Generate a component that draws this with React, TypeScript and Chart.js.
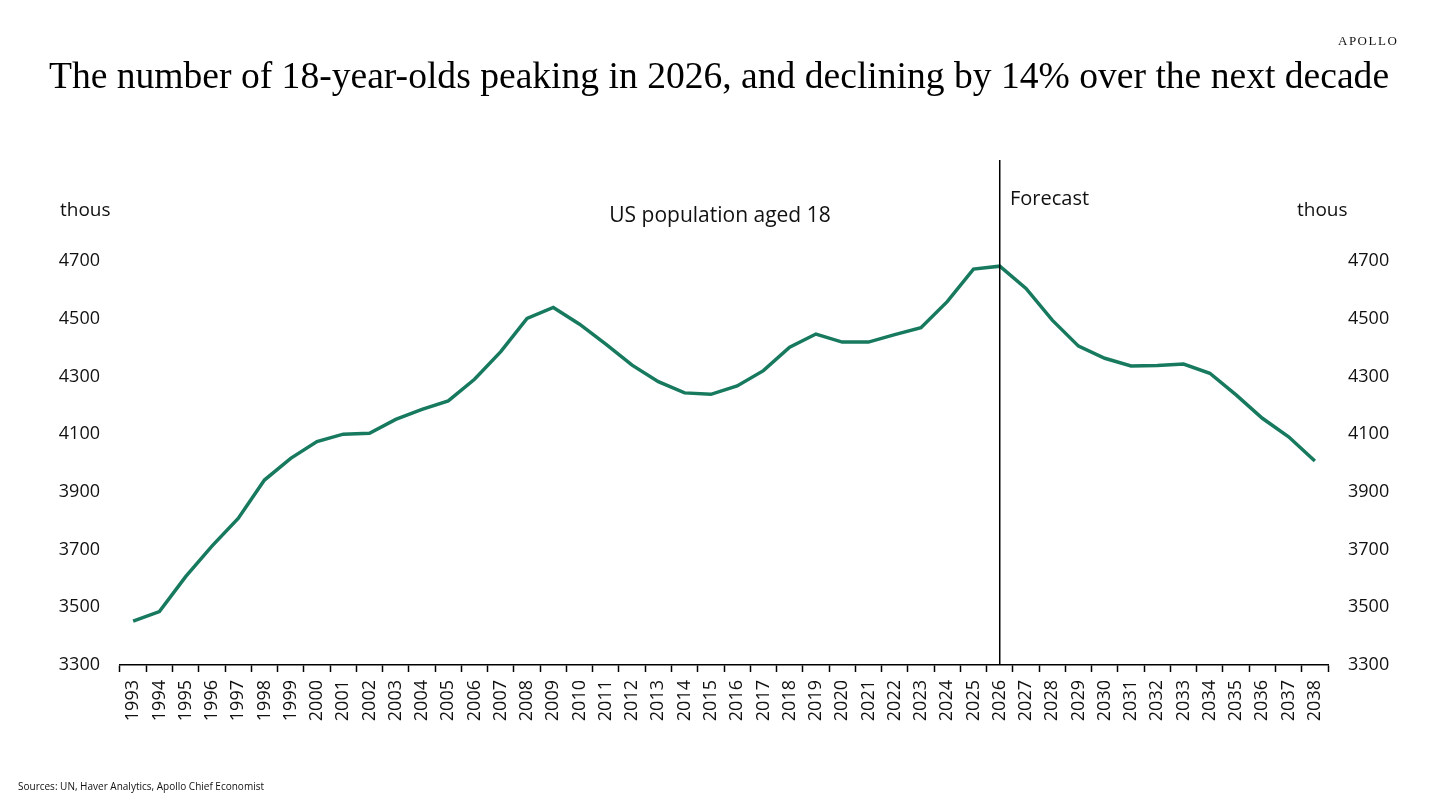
import { useEffect, useRef } from "react";
import { Chart, ChartItem, registerables } from "chart.js";

Chart.register(...registerables);

const years = [
  "1993", "1994", "1995", "1996", "1997", "1998", "1999", "2000", "2001", "2002",
  "2003", "2004", "2005", "2006", "2007", "2008", "2009", "2010", "2011", "2012",
  "2013", "2014", "2015", "2016", "2017", "2018", "2019", "2020", "2021", "2022",
  "2023", "2024", "2025", "2026", "2027", "2028", "2029", "2030", "2031", "2032",
  "2033", "2034", "2035", "2036", "2037", "2038",
];

// US population aged 18, thousands
const population = [
  3452, 3485, 3606, 3712, 3808, 3941, 4016, 4074, 4100, 4103,
  4151, 4186, 4215, 4290, 4386, 4501, 4539, 4481, 4412, 4339,
  4282, 4243, 4238, 4267, 4320, 4401, 4447, 4419, 4419, 4445,
  4469, 4559, 4672, 4682, 4605, 4495, 4405, 4363, 4336, 4338,
  4343, 4311, 4236, 4155, 4091, 4007,
];

const yTicks = [3300, 3500, 3700, 3900, 4100, 4300, 4500, 4700];
const forecastStart = "2026";

const FONT = "'Open Sans', 'Noto Sans', sans-serif";
const GREEN = "#177a5e";

const forecastLine = {
  id: "forecastLine",
  afterDatasetsDraw(chart: Chart) {
    const { ctx, chartArea, scales } = chart;
    const x = scales.x.getPixelForValue(years.indexOf(forecastStart));
    ctx.save();
    ctx.strokeStyle = "#000";
    ctx.lineWidth = 1.5;
    ctx.beginPath();
    ctx.moveTo(x, chartArea.top);
    ctx.lineTo(x, chartArea.bottom);
    ctx.stroke();
    ctx.restore();
  },
};

const PopulationChart = () => {
  const chartRef = useRef<HTMLCanvasElement>(null);

  useEffect(() => {
    if (!chartRef.current) return;
    const ctx = chartRef.current.getContext("2d");

    const yScale = (position: "left" | "right") => ({
      type: "linear" as const,
      position,
      min: 3300,
      max: 5050,
      afterBuildTicks: (scale: any) => {
        scale.ticks = yTicks.map((v) => ({ value: v }));
      },
      afterFit: (scale: any) => {
        scale.width = position === "left" ? 120 : 112;
      },
      grid: { display: false, drawTicks: false },
      border: { display: false },
      ticks: {
        color: "#111",
        padding: 20,
        font: { family: FONT, size: 18 },
        callback: (v: any) => String(v),
      },
    });

    const myChart = new Chart(ctx as ChartItem, {
      type: "line",
      data: {
        labels: years,
        datasets: [
          {
            label: "US population aged 18",
            data: population,
            borderColor: GREEN,
            borderWidth: 3.5,
            pointRadius: 0,
            tension: 0,
            yAxisID: "y",
          },
        ],
      },
      options: {
        responsive: false,
        animation: false,
        layout: { padding: { left: 0, right: 0, top: 160, bottom: 84 } },
        plugins: {
          legend: { display: false },
          tooltip: { enabled: false },
        },
        scales: {
          x: {
            type: "category",
            offset: true,
            afterFit: (scale: any) => {
              scale.height = 60;
            },
            grid: {
              display: true,
              offset: true,
              drawOnChartArea: false,
              drawTicks: true,
              tickLength: 7,
              tickWidth: 1.5,
              tickColor: "#000",
            },
            border: { display: true, color: "#000", width: 1.5 },
            ticks: {
              color: "#111",
              autoSkip: false,
              maxRotation: 90,
              minRotation: 90,
              padding: 8,
              font: { family: FONT, size: 18 },
            },
          },
          y: yScale("left"),
          y2: yScale("right"),
        },
      },
      plugins: [forecastLine],
    });

    return () => {
      myChart.destroy();
    };
  }, []);

  return <canvas ref={chartRef} width={1440} height={809} style={{ position: "absolute", left: 0, top: 0, width: 1440, height: 809 }} />;
};

const text = (extra: React.CSSProperties): React.CSSProperties => ({
  position: "absolute",
  whiteSpace: "nowrap",
  fontFamily: FONT,
  color: "#111",
  lineHeight: 1,
  ...extra,
});

export default function App() {
  return (
    <div style={{ position: "absolute", left: 0, top: 0, width: 1440, height: 809, background: "#fff", overflow: "hidden" }}>
      <PopulationChart />
      <div style={text({ left: 1338, top: 34, fontFamily: "'Liberation Serif', serif", fontSize: 13, letterSpacing: 1.5 })}>APOLLO</div>
      <div style={text({ left: 0, width: 1438, top: 57, textAlign: "center", fontFamily: "'Liberation Serif', 'DejaVu Serif', serif", fontSize: 37.6, color: "#000" })}>
        The number of 18-year-olds peaking in 2026, and declining by 14% over the next decade
      </div>
      <div style={text({ left: 60, top: 200, fontSize: 19 })}>thous</div>
      <div style={text({ left: 1297, top: 200, fontSize: 19 })}>thous</div>
      <div style={text({ left: 520, width: 400, top: 204, textAlign: "center", fontSize: 21 })}>US population aged 18</div>
      <div style={text({ left: 1010, top: 188, fontSize: 20 })}>Forecast</div>
      <div style={text({ left: 18, top: 781, fontSize: 10 })}>Sources: UN, Haver Analytics, Apollo Chief Economist</div>
    </div>
  );
}
